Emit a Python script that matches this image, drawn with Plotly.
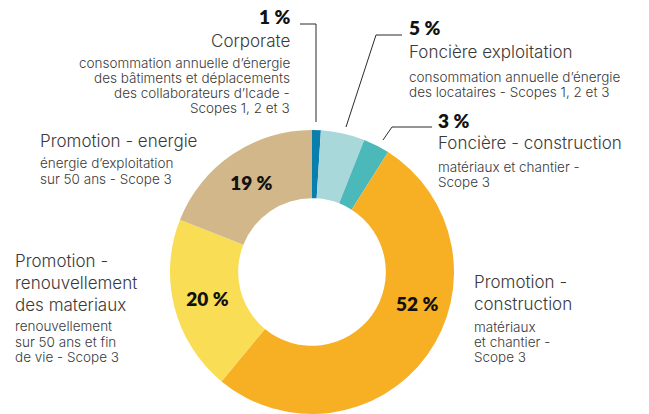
import plotly.graph_objects as go

# Emission breakdown by activity (share of total, %)
categories = [
    "Corporate",
    "Foncière exploitation",
    "Foncière - construction",
    "Promotion - construction",
    "Promotion - renouvellement des materiaux",
    "Promotion - energie",
]
values = [1, 5, 3, 52, 20, 19]
colors = ["#0a7fae", "#a8d8d9", "#4bb8b9", "#f7b024", "#f9dd55", "#d1b789"]

# Titles (split on lines) and sub-captions for each slice
titles = [
    ["Corporate"],
    ["Foncière exploitation"],
    ["Foncière - construction"],
    ["Promotion -", "construction"],
    ["Promotion -", "renouvellement", "des materiaux"],
    ["Promotion - energie"],
]
captions = [
    ["consommation annuelle d’énergie", "des bâtiments et déplacements",
     "des collaborateurs d’Icade -", "Scopes 1, 2 et 3"],
    ["consommation annuelle d’énergie", "des locataires - Scopes 1, 2 et 3"],
    ["matériaux et chantier -", "Scope 3"],
    ["matériaux", "et chantier -", "Scope 3"],
    ["renouvellement", "sur 50 ans et fin", "de vie - Scope 3"],
    ["énergie d’exploitation", "sur 50 ans - Scope 3"],
]

W, H = 649, 414
PCT_FONT = "Lato"
TEXT_FONT = "Inter"
TITLE_COLOR = "#3a3a3a"
CAPTION_COLOR = "#3a3a3a"


def px(x):
    return x / W


def py(y):
    return 1 - y / H


# Donut geometry in pixels
cx, cy, R = 312, 272, 142

fig = go.Figure()
inside = ["" if v < 15 or i == 3 else "%{value} %" for i, v in enumerate(values)]
fig.add_trace(go.Pie(
    labels=categories,
    values=values,
    sort=False,
    direction="clockwise",
    rotation=0,
    hole=0.52,
    marker=dict(colors=colors, line=dict(width=0)),
    texttemplate=inside,
    textposition="inside",
    insidetextorientation="horizontal",
    insidetextfont=dict(family=PCT_FONT, size=19, color="#111111", weight=800),
    domain=dict(x=[px(cx - R), px(cx + R)], y=[py(cy + R), py(cy - R)]),
    showlegend=False,
    hoverinfo="label+percent",
))

annotations = []


def add_text(text, x, y, size, color, weight, anchor, family=TEXT_FONT):
    annotations.append(dict(
        text=text, x=px(x), y=py(y), xref="paper", yref="paper",
        xanchor=anchor, yanchor="middle", showarrow=False,
        font=dict(family=family, size=size, color=color, weight=weight),
    ))


def add_block(i, x, anchor, pct_y, title_ys, caption_ys):
    if pct_y is not None:
        add_text(f"{values[i]} %", x, pct_y, 19, "#111111", 800, anchor, PCT_FONT)
    for t, y in zip(titles[i], title_ys):
        add_text(t, x, y, 17, TITLE_COLOR, 300, anchor)
    for c, y in zip(captions[i], caption_ys):
        add_text(c, x, y, 13.5, CAPTION_COLOR, 300, anchor)


add_block(0, 292, "right", 17, [41], [63, 78, 93, 108])
add_block(1, 407, "left", 28, [52], [77, 92])
add_block(2, 436, "left", 121, [143], [167, 182])
add_block(3, 472, "left", None, [282, 304], [327, 342, 357])
add_block(4, 13, "left", None, [261, 283, 305], [326, 342, 357])
add_block(5, 38, "left", None, [141], [163, 179])

# 52 % label sits off the slice centroid, towards the ring's right side
add_text(f"{values[3]} %", 417, 303, 19, "#111111", 800, "center", PCT_FONT)

# Leader lines from the small slices to their labels
leaders = [
    [(300, 24), (316, 24), (316, 122)],
    [(402, 35), (376, 35), (346, 127)],
    [(432, 127), (392, 127), (383, 140)],
]
shapes = []
for pts in leaders:
    path = "M " + " L ".join(f"{px(x)},{py(y)}" for x, y in pts)
    shapes.append(dict(type="path", path=path, xref="paper", yref="paper",
                       line=dict(color="#2b2b2b", width=1)))

fig.update_layout(
    width=W, height=H,
    margin=dict(l=0, r=0, t=0, b=0, pad=0),
    paper_bgcolor="white",
    plot_bgcolor="white",
    annotations=annotations,
    shapes=shapes,
    font=dict(family=TEXT_FONT),
)

fig.write_html("out.html")
